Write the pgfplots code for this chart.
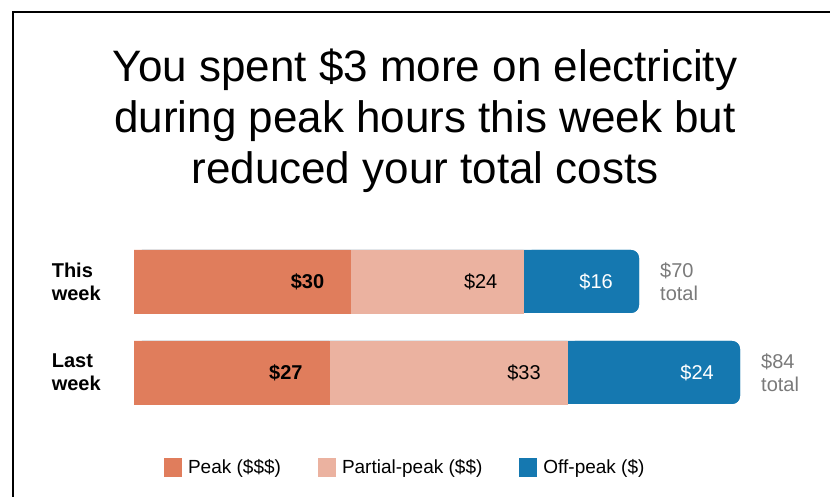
\documentclass[border=0pt]{standalone}
\usepackage{pgfplots}
\pgfplotsset{compat=1.18}
\usepackage{fontspec}
\setmainfont{Liberation Sans}

\definecolor{peak}{HTML}{E07D5C}
\definecolor{partial}{HTML}{EBB2A0}
\definecolor{offpeak}{HTML}{1578B0}
\definecolor{totalgray}{HTML}{7A7A7A}

\pgfplotsset{
  weekaxis/.style={
    at={(134pt,79pt)}, anchor=south west,
    scale only axis, width=606pt, height=182pt,
    xmin=0, xmax=84, ymin=-0.5, ymax=1.5,
    axis line style={draw=none}, tick style={draw=none},
    xtick=\empty, clip=false,
  }
}

\begin{document}
\begin{tikzpicture}
\fill[white] (0,0) rectangle (830pt,497pt);
\path[use as bounding box] (0,0) rectangle (830pt,497pt);
\draw[line width=2.3pt] (12.8pt,0pt) -- (12.8pt,484.8pt) -- (831pt,484.8pt);

% headline
\begin{scope}[every node/.style={anchor=base, inner sep=0pt, font=\fontsize{44}{51}\selectfont}]
\node at (425pt,415pt) {You spent \$3 more on electricity};
\node at (425pt,364pt) {during peak hours this week but};
\node at (425pt,313pt) {reduced your total costs};
\end{scope}

% full-length bars with rounded ends and the weekly totals
\begin{axis}[weekaxis, ytick=\empty]
\addplot[xbar, bar width=63pt, fill=offpeak, draw=none, rounded corners=8pt,
  point meta=explicit symbolic,
  nodes near coords={\$\pgfplotspointmeta\\total},
  every node near coord/.append style={anchor=west, align=left, inner sep=0pt,
    xshift=21pt, text=totalgray, font=\fontsize{20}{23}\selectfont}]
  coordinates {(84,0) [84] (70,1) [70]};
\end{axis}

% cost split by time of use; each label sits 26pt inside the right end of its segment
% (one dollar is 606pt/84 = 7.214pt, half of it 3.607pt)
\begin{axis}[weekaxis, xbar stacked, bar width=63pt,
  ytick={0,1}, yticklabels={{Last\\week},{This\\week}},
  yticklabel style={anchor=east, align=left, text width=50pt, inner sep=0pt,
    xshift=-32pt, font=\bfseries\fontsize{20}{23}\selectfont},
  point meta=explicit symbolic,
  nodes near coords={\$\pgfplotspointmeta},
  every node near coord/.append style={anchor=east, inner sep=0pt,
    xshift={(\pgfplotspointmeta*3.607-26)*1pt},
    font=\fontsize{20}{24}\selectfont},
  legend columns=3,
  legend style={at={(0.446,-0.272)}, anchor=center, draw=none, fill=none,
    inner sep=0pt, nodes={inner sep=0pt}, font=\fontsize{19}{22}\selectfont,
    /tikz/every odd column/.append style={column sep=6pt},
    /tikz/every even column/.append style={column sep=37pt}},
  legend image code/.code={\fill[#1, draw=none, sharp corners] (0pt,-9.5pt) rectangle (18pt,9.5pt);},
]
\addplot[fill=peak, draw=peak, line width=0.4pt,
  every node near coord/.append style={font=\bfseries\fontsize{20}{24}\selectfont}]
  coordinates {(27,0) [27] (30,1) [30]};
\addplot[fill=partial, draw=partial, line width=0.4pt,
  every node near coord/.append style={text=black}]
  coordinates {(33,0) [33] (24,1) [24]};
\addplot[fill=offpeak, draw=none, rounded corners=8pt,
  every node near coord/.append style={text=white}]
  coordinates {(24,0) [24] (16,1) [16]};
\legend{Peak (\$\$\$), Partial-peak (\$\$), Off-peak (\$)}
\end{axis}
\end{tikzpicture}
\end{document}
